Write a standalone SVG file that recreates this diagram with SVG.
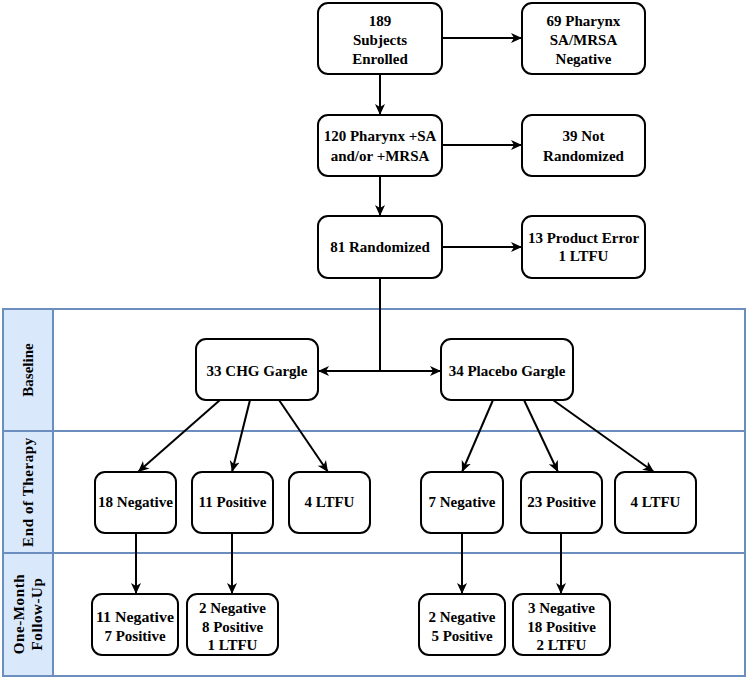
<svg xmlns="http://www.w3.org/2000/svg" width="750" height="679" viewBox="0 0 750 679">
<defs>
<style>
text{font-family:'Liberation Serif','Times New Roman','DejaVu Serif',serif;font-weight:bold;font-size:15px;fill:#000;text-anchor:middle}
.node rect{fill:#fff;stroke:#000;stroke-width:2}
.lane{fill:none;stroke:#6c8ebf;stroke-width:2}
.hdr{fill:#dae8fc;stroke:#6c8ebf;stroke-width:2}
.conn path{fill:none;stroke:#000;stroke-width:2}
</style>
<marker id="arr" markerUnits="userSpaceOnUse" markerWidth="12" markerHeight="12" viewBox="0 0 12 12" refX="11" refY="6" orient="auto">
<path d="M0,1 L11,6 L0,11 L3,6 z" fill="#000"/>
</marker>
</defs>
<rect width="750" height="679" fill="#fff"/>
<g id="lanes" font-family="Liberation Serif, serif">
<rect class="lane" x="3" y="309" width="742" height="367"/>
<rect class="hdr" x="3" y="309" width="50" height="367"/>
<line class="lane" x1="3" y1="431" x2="745" y2="431"/>
<line class="lane" x1="3" y1="553" x2="745" y2="553"/>
<text transform="translate(33,370) rotate(-90)">Baseline</text>
<text transform="translate(33,492) rotate(-90)" letter-spacing="0.6">End of Therapy</text>
<text transform="translate(24,614) rotate(-90)" letter-spacing="0.6">One-Month</text>
<text transform="translate(42,614) rotate(-90)" letter-spacing="0.6">Follow-Up</text>
</g>
<g class="conn" id="connectors">
<path d="M442,38 H522" marker-end="url(#arr)"/>
<path d="M380,74 V115" marker-end="url(#arr)"/>
<path d="M442,145 H522" marker-end="url(#arr)"/>
<path d="M380,176 V216" marker-end="url(#arr)"/>
<path d="M442,247 H522" marker-end="url(#arr)"/>
<path d="M380,278 V371 H318" marker-end="url(#arr)"/>
<path d="M380,371 H441" marker-end="url(#arr)"/>
<path d="M220,400 L138,472" marker-end="url(#arr)"/>
<path d="M250,400 L232,472" marker-end="url(#arr)"/>
<path d="M279,400 L328,472" marker-end="url(#arr)"/>
<path d="M493,400 L462,472" marker-end="url(#arr)"/>
<path d="M524,400 L558,472" marker-end="url(#arr)"/>
<path d="M553,400 L654,472" marker-end="url(#arr)"/>
<path d="M136,533 V594" marker-end="url(#arr)"/>
<path d="M232,533 V594" marker-end="url(#arr)"/>
<path d="M462,533 V594" marker-end="url(#arr)"/>
<path d="M561,533 V594" marker-end="url(#arr)"/>
</g>
<g class="node" id="n189"><rect x="318" y="3" width="124" height="71" rx="10"/><text x="380" y="26">189</text><text x="380" y="45">Subjects</text><text x="380" y="64">Enrolled</text></g>
<g class="node" id="n69"><rect x="522" y="3" width="123" height="71" rx="10"/><text x="583.5" y="26">69 Pharynx</text><text x="583.5" y="45">SA/MRSA</text><text x="583.5" y="64">Negative</text></g>
<g class="node" id="n120"><rect x="318" y="115" width="124" height="61" rx="10"/><text x="380" y="141">120 Pharynx +SA</text><text x="380" y="161">and/or +MRSA</text></g>
<g class="node" id="n39"><rect x="522" y="115" width="123" height="61" rx="10"/><text x="583.5" y="141">39 Not</text><text x="583.5" y="161">Randomized</text></g>
<g class="node" id="n81"><rect x="318" y="216" width="124" height="62" rx="10"/><text x="380" y="252">81 Randomized</text></g>
<g class="node" id="n13"><rect x="522" y="216" width="123" height="62" rx="10"/><text x="583.5" y="243">13 Product Error</text><text x="583.5" y="261">1 LTFU</text></g>
<g class="node" id="chg"><rect x="196" y="339" width="122" height="61" rx="10"/><text x="257" y="376">33 CHG Gargle</text></g>
<g class="node" id="plc"><rect x="441" y="339" width="132" height="61" rx="10"/><text x="507" y="376">34 Placebo Gargle</text></g>
<g class="node" id="e1"><rect x="95" y="472" width="81" height="61" rx="10"/><text x="135.5" y="507" textLength="75" lengthAdjust="spacingAndGlyphs">18 Negative</text></g>
<g class="node" id="e2"><rect x="192" y="472" width="81" height="61" rx="10"/><text x="232.5" y="507">11 Positive</text></g>
<g class="node" id="e3"><rect x="289" y="472" width="81" height="61" rx="10"/><text x="329.5" y="507">4 LTFU</text></g>
<g class="node" id="e4"><rect x="421" y="472" width="82" height="61" rx="10"/><text x="462" y="507">7 Negative</text></g>
<g class="node" id="e5"><rect x="521" y="472" width="81" height="61" rx="10"/><text x="561.5" y="507">23 Positive</text></g>
<g class="node" id="e6"><rect x="615" y="472" width="81" height="61" rx="10"/><text x="655.5" y="507">4 LTFU</text></g>
<g class="node" id="f1"><rect x="92" y="594" width="86" height="61" rx="10"/><text x="135" y="622" textLength="78" lengthAdjust="spacingAndGlyphs">11 Negative</text><text x="135" y="641">7 Positive</text></g>
<g class="node" id="f2"><rect x="187" y="594" width="91" height="61" rx="10"/><text x="232.5" y="613">2 Negative</text><text x="232.5" y="632">8 Positive</text><text x="232.5" y="650">1 LTFU</text></g>
<g class="node" id="f3"><rect x="419" y="594" width="86" height="61" rx="10"/><text x="462" y="622">2 Negative</text><text x="462" y="641">5 Positive</text></g>
<g class="node" id="f4"><rect x="513" y="594" width="97" height="61" rx="10"/><text x="561.5" y="613">3 Negative</text><text x="561.5" y="632">18 Positive</text><text x="561.5" y="650">2 LTFU</text></g>
</svg>
